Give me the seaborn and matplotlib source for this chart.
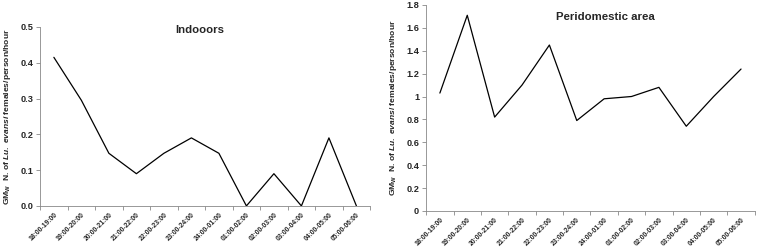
import pandas as pd
import matplotlib.pyplot as plt
import seaborn as sns
from matplotlib.ticker import FixedLocator

# Data
slots = ["18:00-19:00", "19:00-20:00", "20:00-21:00", "21:00-22:00",
         "22:00-23:00", "23:00-24:00", "24:00-01:00", "01:00-02:00",
         "02:00-03:00", "03:00-04:00", "04:00-05:00", "05:00-06:00"]
indoors = [0.415, 0.295, 0.147, 0.09, 0.147, 0.19, 0.147, 0.0, 0.09, 0.0, 0.19, 0.0]
peridomestic = [1.03, 1.71, 0.82, 1.10, 1.45, 0.79, 0.98, 1.00, 1.08, 0.74, 1.00, 1.24]

indoor_yticks = [0.0, 0.1, 0.2, 0.3, 0.4, 0.5]
indoor_ylabels = ["0.0", "0.1", "0.2", "0.3", "0.4", "0.5"]
peri_yticks = [0, 0.2, 0.4, 0.6, 0.8, 1.0, 1.2, 1.4, 1.6, 1.8]
peri_ylabels = ["0", "0.2", "0.4", "0.6", "0.8", "1", "1.2", "1.4", "1.6", "1.8"]

sns.set_theme(style="white")
plt.rcParams["font.family"] = ["Liberation Sans", "DejaVu Sans"]
plt.rcParams["font.weight"] = "bold"
plt.rcParams["mathtext.fontset"] = "custom"
plt.rcParams["mathtext.rm"] = "Liberation Sans:bold"
plt.rcParams["mathtext.it"] = "Liberation Sans:italic:bold"
plt.rcParams["mathtext.bf"] = "Liberation Sans:bold"

fig = plt.figure(figsize=(7.57, 2.49), dpi=100)
ax1 = fig.add_axes([0.053, 0.173, 0.436, 0.719])
ax2 = fig.add_axes([0.563, 0.153, 0.434, 0.827])


def draw_panel(ax, values, yticks, ylabels, title, ylabel, title_xy):
    df = pd.DataFrame({"slot": slots, "value": values})
    sns.lineplot(data=df, x="slot", y="value", sort=False, color="black",
                 linewidth=0.9, ax=ax)
    n = len(slots)
    ax.set_xlim(-0.5, n - 0.5)
    ax.set_ylim(yticks[0], yticks[-1])
    ax.set_yticks(yticks)
    ax.set_yticklabels(ylabels, fontsize=6.6, fontweight="bold")
    ax.set_xticks(range(n))
    ax.set_xticklabels(slots, rotation=45, ha="right", rotation_mode="anchor",
                       fontsize=4.9, fontweight="bold")
    ax.xaxis.set_minor_locator(FixedLocator([i - 0.5 for i in range(n + 1)]))
    ax.tick_params(axis="x", which="major", length=0, pad=4)
    ax.tick_params(axis="x", which="minor", length=3, width=0.6, color="#888888",
                   direction="out", bottom=True)
    ax.tick_params(axis="y", length=3, width=0.6, color="#888888",
                   direction="out", left=True, pad=2)
    for side in ["top", "right"]:
        ax.spines[side].set_visible(False)
    for side in ["left", "bottom"]:
        ax.spines[side].set_color("#888888")
        ax.spines[side].set_linewidth(0.6)
    ax.set_xlabel("")
    ax.set_ylabel(ylabel, fontsize=6.1, fontweight="bold", labelpad=5)
    ax.text(title_xy[0], title_xy[1], title, transform=ax.transAxes,
            fontsize=8.2, fontweight="bold", ha="center", va="center")


draw_panel(ax1, indoors, indoor_yticks, indoor_ylabels, "Indooors",
           r"$\mathrm{GM}_\mathrm{W}$  N. of $\mathit{Lu.}$ $\mathit{evansi}$ females/person/hour",
           (0.485, 0.985))
draw_panel(ax2, peridomestic, peri_yticks, peri_ylabels, "Peridomestic area",
           r"$\mathrm{GM}_\mathrm{W}$  N. of $\mathit{Lu.}$ $\mathit{evans/}$ females/person/hour",
           (0.545, 0.94))

fig.savefig("out.png", dpi=100)
